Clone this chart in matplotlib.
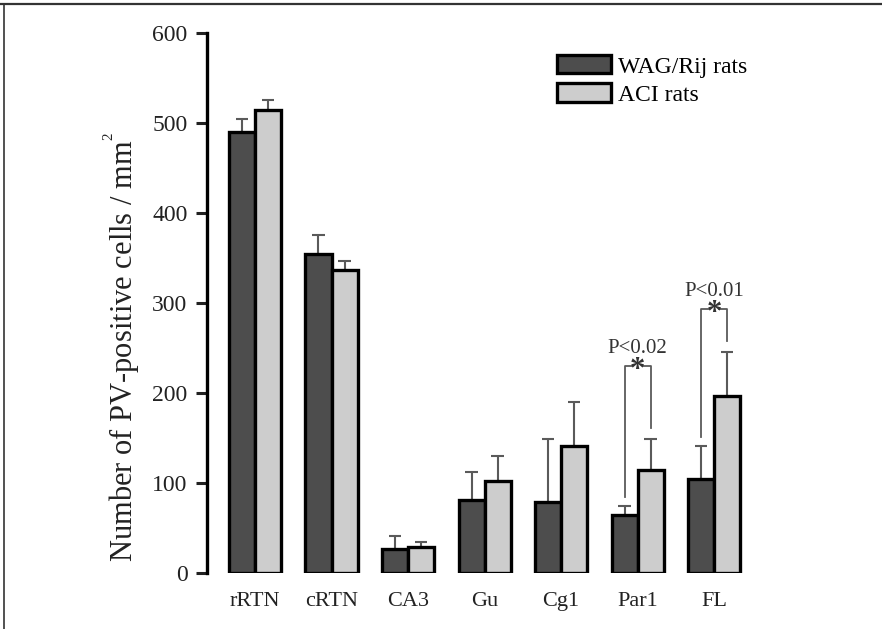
import numpy as np
import matplotlib.pyplot as plt
from matplotlib.lines import Line2D

regions = ["rRTN", "cRTN", "CA3", "Gu", "Cg1", "Par1", "FL"]
wag_mean = [490, 354, 27, 81, 79, 65, 104]
wag_err = [14, 22, 14, 31, 70, 10, 37]
aci_mean = [515, 337, 29, 102, 141, 114, 197]
aci_err = [11, 10, 5, 28, 49, 35, 49]

# significance brackets: (region index, bracket height, label)
sig = [(5, 230, "P<0.02"), (6, 293, "P<0.01")]

plt.rcParams["font.family"] = ["Liberation Serif", "DejaVu Serif"]

fig = plt.figure(figsize=(8.82, 6.29), dpi=100)
ax = fig.add_axes([0.2347, 0.089, 0.627, 0.8585])

x = np.arange(len(regions))
w = 0.34
dark = "#4d4d4d"
light = "#cdcdcd"
errc = "#5a5a5a"
txt = "#222222"

ax.bar(x - w / 2, wag_mean, w, color=dark, edgecolor="black", linewidth=2.4,
       label="WAG/Rij rats", zorder=3)
ax.bar(x + w / 2, aci_mean, w, color=light, edgecolor="black", linewidth=2.4,
       label="ACI rats", zorder=3)

# one-sided error bars
for xs, m, e in [(x - w / 2, wag_mean, wag_err), (x + w / 2, aci_mean, aci_err)]:
    m = np.array(m)
    e = np.array(e)
    ax.vlines(xs, m, m + e, color=errc, linewidth=1.5, zorder=2)
    ax.hlines(m + e, xs - 0.08, xs + 0.08, color=errc, linewidth=1.5, zorder=2)

# significance brackets
for i, ymax, lab in sig:
    top_l = wag_mean[i] + wag_err[i]
    top_r = aci_mean[i] + aci_err[i]
    xl, xr = i - w / 2, i + w / 2
    ax.plot([xl, xl, i - 0.07], [top_l + 10, ymax, ymax], color=errc, lw=1.3)
    ax.plot([i + 0.07, xr, xr], [ymax, ymax, top_r + 12], color=errc, lw=1.3)
    ax.text(i, ymax - 5, "*", ha="center", va="center", fontsize=22,
            fontweight="bold", color="#333333")
    ax.text(i, ymax + 9, lab, ha="center", va="bottom", fontsize=15,
            color="#333333")

ax.set_xlim(-0.627, 6.6)
ax.set_ylim(0, 600)
ax.set_yticks([0, 100, 200, 300, 400, 500, 600])
ax.set_xticks(x)
ax.set_xticklabels(regions)
ax.tick_params(axis="y", direction="out", length=8, width=2.2, labelsize=17,
               pad=6, colors=txt)
ax.tick_params(axis="x", length=0, labelsize=16, pad=14, colors=txt)
for s in ["top", "right", "bottom"]:
    ax.spines[s].set_visible(False)
ax.spines["left"].set_linewidth(2.4)

ax.set_ylabel("Number of PV-positive cells / mm$^{\\mathregular{^2}}$",
              fontsize=22, color=txt)
ax.yaxis.set_label_coords(-0.118, 0.418)

ax.legend(loc="upper left", bbox_to_anchor=(0.6315, 0.912),
          bbox_transform=fig.transFigure, frameon=False, fontsize=17,
          handlelength=2.3, handleheight=0.8, labelspacing=0.25,
          handletextpad=0.3, borderpad=0, borderaxespad=0)

# outer border (top and left)
fig.add_artist(Line2D([0, 1], [0.993, 0.993], color="#333333", lw=1.6,
                      transform=fig.transFigure))
fig.add_artist(Line2D([0.004, 0.004], [0, 0.993], color="#333333", lw=1.2,
                      transform=fig.transFigure))

plt.savefig("out.png", dpi=100)
